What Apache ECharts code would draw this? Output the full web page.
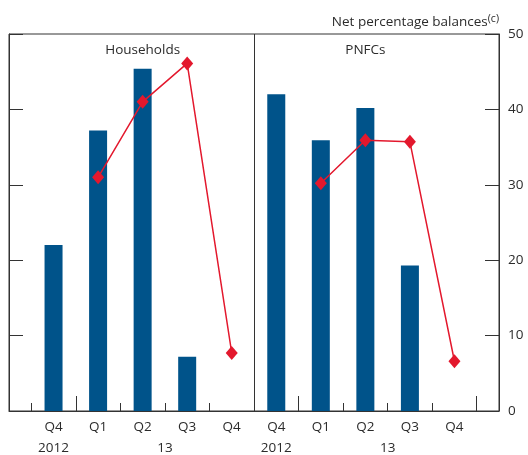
<!DOCTYPE html>
<html>
<head>
<meta charset="utf-8">
<script src="https://cdn.jsdelivr.net/npm/echarts@6/dist/echarts.min.js"></script>
<style>
html,body{margin:0;padding:0;background:#fff;}
#c{width:528px;height:455px;}
</style>
</head>
<body>
<div id="c"></div>
<script>
// ---- data ----
const panels = ['Households', 'PNFCs'];
const quarters = ['Q4', 'Q1', 'Q2', 'Q3', 'Q4'];
const years = ['2012', '13'];
const householdsBalance = [22, 37.2, 45.4, 7.2, null];
const householdsExpected = [null, 31, 41, 46.1, 7.7];
const pnfcBalance = [42, 35.9, 40.2, 19.3, null];
const pnfcExpected = [null, 30.2, 35.9, 35.7, 6.6];
const yMin = 0, yMax = 50, yStep = 10;
const yTitle = 'Net percentage balances';
const yTitleNote = '(c)';

// ---- build ----
const perPanel = quarters.length;
function toPoints(arr, p) {
  return arr.map((v, i) => [p * perPanel + i, v]).filter(d => d[1] !== null);
}
const barData = toPoints(householdsBalance, 0).concat(toPoints(pnfcBalance, 1));
const lineH = toPoints(householdsExpected, 0);
const lineP = toPoints(pnfcExpected, 1);

const labelPos = [];
for (let p = 0; p < panels.length; p++) for (let i = 0; i < perPanel; i++) labelPos.push(p * perPanel + i);
const yearPos = [0, 2.5, 5, 7.5];
const longTicks = [0.5, 5.5, 9.5];
const shortTicks = [-0.5, 1.5, 2.5, 3.5, 6.5, 7.5, 8.5];

const FONT = '"Open Sans", "Noto Sans", sans-serif';
const FS = 13.5;
const TXT = '#2b2b2b';
const LINE = '#333';
const BLUE = '#00538A';
const RED = '#E3182D';

const chart = echarts.init(document.getElementById('c'), null, {renderer: 'canvas'});
const option = {
  animation: false,
  textStyle: {fontFamily: FONT},
  grid: {left: 9, right: 29, top: 34, bottom: 44, show: true, borderColor: LINE, borderWidth: 1, backgroundColor: 'transparent'},
  xAxis: [
    {
      type: 'value', min: -1, max: 10, position: 'bottom',
      axisLine: {show: true, onZero: false, lineStyle: {color: LINE, width: 1}},
      axisTick: {show: true, inside: true, length: 8, customValues: shortTicks, lineStyle: {color: LINE}},
      axisLabel: {show: true, customValues: labelPos, margin: 9, color: TXT, fontSize: FS, fontFamily: FONT,
        formatter: v => quarters[Math.round(v) % perPanel]},
      splitLine: {show: false}
    },
    {
      type: 'value', min: -1, max: 10, position: 'bottom',
      axisLine: {show: false, onZero: false},
      axisTick: {show: true, inside: true, length: 15, customValues: longTicks, lineStyle: {color: LINE}},
      axisLabel: {show: true, customValues: yearPos, margin: 30, color: TXT, fontSize: FS, fontFamily: FONT,
        formatter: v => (v % perPanel === 0 ? years[0] : years[1])},
      splitLine: {show: false}
    }
  ],
  yAxis: [
    {
      type: 'value', position: 'left', min: yMin, max: yMax, interval: yStep,
      axisLine: {show: true, onZero: false, lineStyle: {color: LINE}},
      axisTick: {show: true, inside: true, length: 14, lineStyle: {color: LINE}},
      axisLabel: {show: false}, splitLine: {show: false}
    },
    {
      type: 'value', position: 'right', min: yMin, max: yMax, interval: yStep,
      axisLine: {show: true, onZero: false, lineStyle: {color: LINE}},
      axisTick: {show: true, inside: true, length: 14, lineStyle: {color: LINE}},
      axisLabel: {show: true, margin: 9, color: TXT, fontSize: FS, fontFamily: FONT},
      splitLine: {show: false}
    }
  ],
  series: [
    {
      type: 'bar', xAxisIndex: 0, yAxisIndex: 0, data: barData, barWidth: 18,
      itemStyle: {color: BLUE},
      markLine: {silent: true, symbol: 'none', label: {show: false},
        lineStyle: {color: LINE, width: 1, type: 'solid'},
        data: [{xAxis: (perPanel - 0.5)}]}
    },
    {
      type: 'line', xAxisIndex: 0, yAxisIndex: 0, data: lineH,
      symbol: 'diamond', symbolSize: [12, 14],
      lineStyle: {color: RED, width: 1.5}, itemStyle: {color: RED}
    },
    {
      type: 'line', xAxisIndex: 0, yAxisIndex: 0, data: lineP,
      symbol: 'diamond', symbolSize: [12, 14],
      lineStyle: {color: RED, width: 1.5}, itemStyle: {color: RED}
    }
  ]
};
chart.setOption(option);

const graphics = panels.map((name, p) => {
  const px = chart.convertToPixel({xAxisIndex: 0}, p * perPanel + 2);
  return {type: 'text', x: px, y: 50, style: {text: name, fill: TXT, font: FS + 'px ' + FONT, textAlign: 'center', textVerticalAlign: 'middle'}};
});
const rightEdge = chart.convertToPixel({xAxisIndex: 0}, 10);
graphics.push({
  type: 'text', x: rightEdge, y: 22,
  style: {
    text: '{a|' + yTitle + '}{s|' + yTitleNote + '}',
    textAlign: 'right', textVerticalAlign: 'middle',
    rich: {
      a: {fontSize: FS, fontFamily: FONT, fill: TXT, color: TXT},
      s: {fontSize: 10.5, fontFamily: FONT, fill: TXT, color: TXT, verticalAlign: 'top', padding: [0, 0, 6, 0]}
    }
  }
});
chart.setOption({graphic: graphics});
</script>
</body>
</html>
